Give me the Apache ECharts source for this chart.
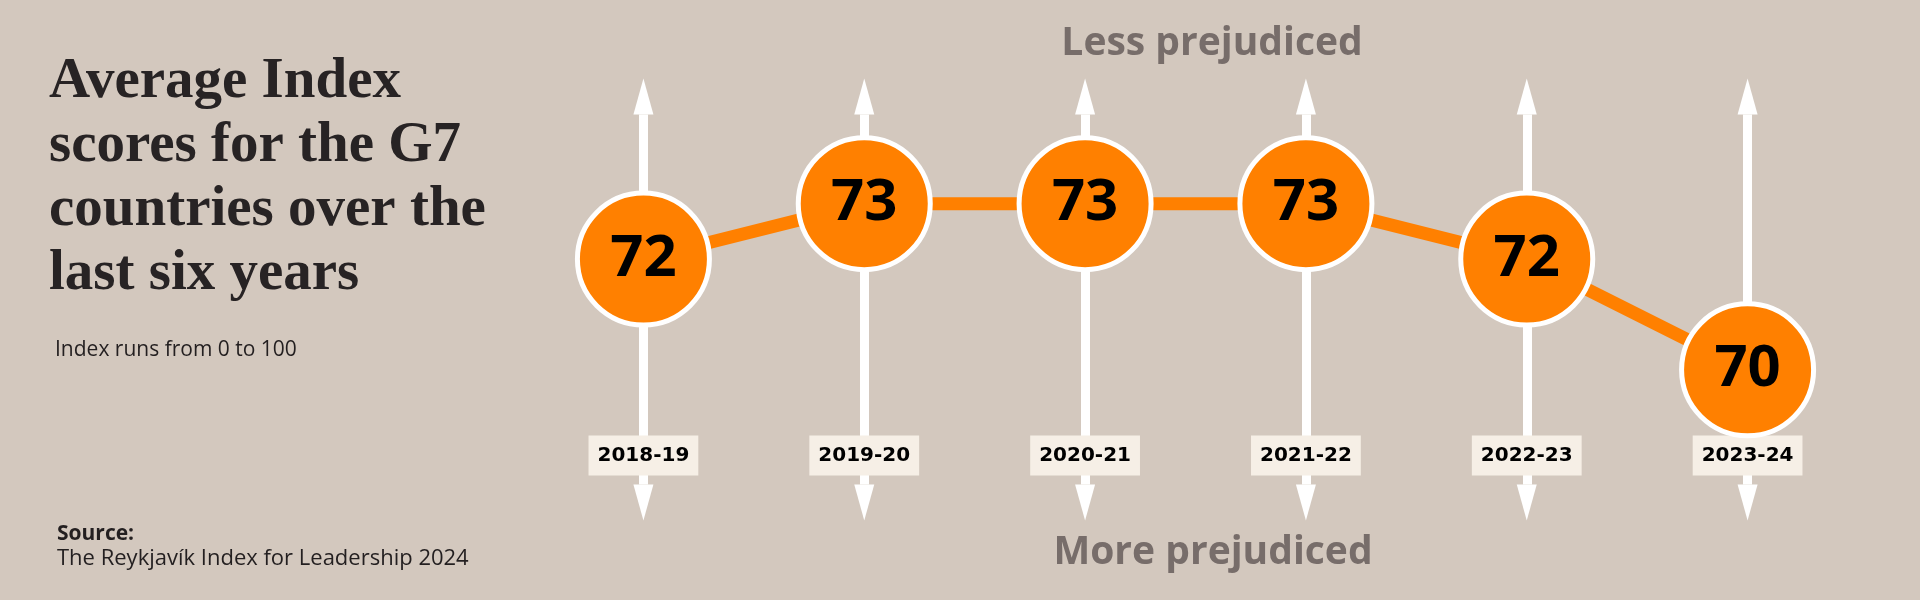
<!DOCTYPE html>
<html>
<head>
<meta charset="utf-8">
<style>
html,body{margin:0;padding:0;background:#D3C8BE;}
#chart{width:1920px;height:600px;}
</style>
<script src="https://cdn.jsdelivr.net/npm/echarts@6/dist/echarts.min.js"></script>
</head>
<body>
<div id="chart"></div>
<script>
const categories = ['2018-19', '2019-20', '2020-21', '2021-22', '2022-23', '2023-24'];
const scores = [72, 73, 73, 73, 72, 70];
const titleLines = ['Average Index', 'scores for the G7', 'countries over the', 'last six years'];
const subtitleText = 'Index runs from 0 to 100';
const sourceLabel = 'Source:';
const sourceText = 'The Reykjavík Index for Leadership 2024';
const topLabel = 'Less prejudiced';
const bottomLabel = 'More prejudiced';

const chart = echarts.init(document.getElementById('chart'));
const sans = '"Open Sans", "Noto Sans", sans-serif';
const option = {
  backgroundColor: '#D3C8BE',
  animation: false,
  title: {
    text: titleLines.join('\n'),
    left: 49,
    top: 50,
    padding: 0,
    textStyle: {
      fontFamily: '"Liberation Serif", "DejaVu Serif", serif',
      fontWeight: 'bold',
      fontSize: 57,
      lineHeight: 64,
      color: '#272324'
    }
  },
  grid: [
    { left: 533, right: 62, top: 78.5, bottom: 79.5 },
    { left: 533, right: 62, top: 114.5, bottom: 115.5 }
  ],
  xAxis: [
    {
      type: 'category',
      data: categories,
      boundaryGap: true,
      z: 3,
      axisLine: { show: false },
      axisTick: { show: false },
      splitLine: { show: false },
      axisLabel: {
        margin: -85,
        fontFamily: '"DejaVu Sans", sans-serif',
        fontWeight: 'bold',
        fontSize: 20,
        color: '#000',
        backgroundColor: '#F6EFE6',
        padding: [10, 9, 10, 9],
        lineHeight: 20
      }
    },
    {
      type: 'category',
      gridIndex: 1,
      data: categories,
      boundaryGap: true,
      show: false
    }
  ],
  yAxis: [
    { type: 'value', min: 67.28, max: 75.26, show: false },
    { type: 'value', gridIndex: 1, min: 67.28, max: 75.26, show: false }
  ],
  graphic: [
    { type: 'text', x: 55, y: 350, style: { text: subtitleText, font: '21px ' + sans, fill: '#231f20', verticalAlign: 'middle' } },
    { type: 'text', x: 57, y: 534, style: { text: sourceLabel, font: 'bold 21px ' + sans, fill: '#231f20', verticalAlign: 'middle' } },
    { type: 'text', x: 57, y: 559, style: { text: sourceText, font: '22px ' + sans, fill: '#231f20', verticalAlign: 'middle' } },
    { type: 'text', x: 1212, y: 44, style: { text: topLabel, font: 'bold 39px ' + sans, fill: '#776D6A', align: 'center', verticalAlign: 'middle' } },
    { type: 'text', x: 1213, y: 553, style: { text: bottomLabel, font: 'bold 39px ' + sans, fill: '#776D6A', align: 'center', verticalAlign: 'middle' } }
  ],
  series: [
    {
      type: 'line',
      xAxisIndex: 1,
      yAxisIndex: 1,
      data: scores,
      z: 1,
      silent: true,
      symbol: 'none',
      lineStyle: { opacity: 0 },
      markLine: {
        z: 1,
        silent: true,
        symbol: ['triangle', 'triangle'],
        symbolSize: [20, 36],
        symbolOffset: [[0, -18], [0, -18]],
        label: { show: false },
        lineStyle: { color: '#FFFFFF', width: 9, type: 'solid', cap: 'butt' },
        data: categories.map(c => ({ xAxis: c }))
      }
    },
    {
      type: 'line',
      data: scores,
      z: 5,
      symbol: 'circle',
      symbolSize: 132,
      itemStyle: { color: '#FF8000', borderColor: '#FFFFFF', borderWidth: 5 },
      lineStyle: { color: '#FF8000', width: 13 },
      label: {
        show: true,
        position: 'inside',
        fontFamily: sans,
        fontWeight: 'bold',
        fontSize: 58,
        color: '#000'
      }
    }
  ]
};
chart.setOption(option);
</script>
</body>
</html>
